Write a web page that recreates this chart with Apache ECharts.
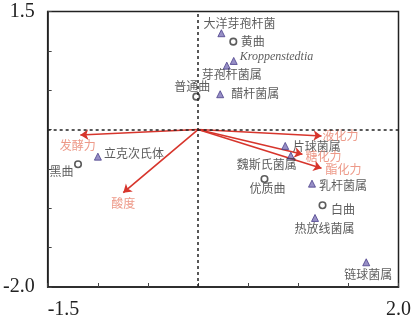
<!DOCTYPE html>
<html>
<head>
<meta charset="utf-8">
<script src="https://cdn.jsdelivr.net/npm/echarts@6/dist/echarts.min.js"></script>
<style>html,body{margin:0;padding:0;background:#fff;}#c{width:414px;height:324px;}</style>
</head>
<body>
<div id="c"></div>
<script>
// ---- data ----
const xTickLabels = ['-1.5', '2.0'];
const yTickLabels = ['-2.0', '1.5'];

const bacteriaNames = ['大洋芽孢杆菌', 'Kroppenstedtia', '芽孢杆菌属', '醋杆菌属', '立克次氏体', '片球菌属', '魏斯氏菌属', '乳杆菌属', '热放线菌属', '链球菌属'];
const bacteriaX = [0.233, 0.356, 0.287, 0.221, -0.999, 0.870, 0.926, 1.137, 1.167, 1.678];
const bacteriaY = [1.224, 0.872, 0.812, 0.449, -0.344, -0.208, -0.332, -0.687, -1.123, -1.686];

const quNames = ['黄曲', '普通曲', '黑曲', '优质曲', '白曲'];
const quX = [0.352, -0.017, -1.197, 0.663, 1.242];
const quY = [1.117, 0.418, -0.441, -0.628, -0.962];

const envNames = ['液化力', '糖化力', '酯化力', '发酵力', '酸度'];
const envX = [1.232, 1.042, 1.232, -1.174, -0.746];
const envY = [-0.081, -0.314, -0.492, -0.069, -0.802];

// ---- label layout (style only) ----
const labelLayout = {
  '大洋芽孢杆菌': {align: 'center', offset: [18, -10]},
  'Kroppenstedtia': {align: 'left', offset: [6, -4], italic: true},
  '芽孢杆菌属': {align: 'center', offset: [5, 8.5]},
  '醋杆菌属': {align: 'left', offset: [11, -1]},
  '立克次氏体': {align: 'left', offset: [6, -3.5]},
  '片球菌属': {align: 'left', offset: [7.5, 0]},
  '魏斯氏菌属': {align: 'center', offset: [-24, 8.5]},
  '乳杆菌属': {align: 'left', offset: [7, 1.5]},
  '热放线菌属': {align: 'center', offset: [9.5, 10.5]},
  '链球菌属': {align: 'center', offset: [2, 12.5]},
  '黄曲': {align: 'left', offset: [7.5, -0.5]},
  '普通曲': {align: 'center', offset: [-4, -10]},
  '黑曲': {align: 'right', offset: [-4.5, 7.5]},
  '优质曲': {align: 'center', offset: [3, 9.5]},
  '白曲': {align: 'left', offset: [8.5, 4]},
  '液化力': {align: 'center', offset: [19, -1]},
  '糖化力': {align: 'center', offset: [21, 2.5]},
  '酯化力': {align: 'center', offset: [22, 1.5]},
  '发酵力': {align: 'center', offset: [-2.5, 10]},
  '酸度': {align: 'center', offset: [0, 10.5]}
};

const cjkFont = '"Noto Sans CJK SC", "Noto Sans", sans-serif';
const serifFont = '"Liberation Serif", "DejaVu Serif", serif';

function pointData(names, xs, ys) {
  return names.map((n, i) => {
    const L = labelLayout[n];
    return {
      name: n,
      value: [xs[i], ys[i]],
      label: {
        show: true,
        formatter: n,
        position: 'inside',
        align: L.align,
        verticalAlign: 'middle',
        offset: L.offset,
        fontStyle: L.italic ? 'italic' : 'normal',
        fontFamily: L.italic ? serifFont : cjkFont
      }
    };
  });
}

const chart = echarts.init(document.getElementById('c'), null, {renderer: 'canvas'});

const option = {
  animation: false,
  backgroundColor: '#ffffff',
  grid: {left: 47, right: 13, top: 11.5, bottom: 37, show: true, borderColor: '#222', borderWidth: 1.5, backgroundColor: 'transparent'},
  xAxis: {
    type: 'value', min: -1.5, max: 2.0, interval: 0.5,
    axisLine: {show: true, onZero: false, lineStyle: {color: '#222', width: 1.5}},
    axisTick: {show: true, inside: true, length: 4, lineStyle: {color: '#444', width: 1}},
    splitLine: {show: false},
    axisLabel: {
      show: true, margin: 13, color: '#222', fontFamily: serifFont, fontSize: 20,
      alignMinLabel: 'left', alignMaxLabel: 'center',
      formatter: v => {
        const s = v.toFixed(1);
        return xTickLabels.indexOf(s) >= 0 ? s : '';
      }
    }
  },
  yAxis: {
    type: 'value', min: -2.0, max: 1.5, interval: 0.5,
    axisLine: {show: true, onZero: false, lineStyle: {color: '#222', width: 1.5}},
    axisTick: {show: true, inside: true, length: 4, lineStyle: {color: '#444', width: 1}},
    splitLine: {show: false},
    axisLabel: {
      show: true, margin: 13, color: '#222', fontFamily: serifFont, fontSize: 20,
      formatter: v => {
        const s = v.toFixed(1);
        return yTickLabels.indexOf(s) >= 0 ? s : '';
      }
    }
  },
  series: [
    {
      type: 'line', data: [], silent: true,
      markLine: {
        silent: true, symbol: ['none', 'none'],
        lineStyle: {color: '#222', type: [3, 3], width: 1.5},
        label: {show: false},
        data: [{xAxis: 0}, {yAxis: 0}]
      }
    },
    {
      type: 'lines', coordinateSystem: 'cartesian2d', silent: true,
      symbol: ['none', 'arrow'], symbolSize: 8,
      lineStyle: {color: '#d7352c', width: 1.6, opacity: 1},
      data: envNames.map((n, i) => ({coords: [[0, 0], [envX[i], envY[i]]]}))
    },
    {
      type: 'scatter', symbol: 'triangle', symbolSize: 7,
      itemStyle: {color: '#7d73b8', borderColor: '#4a3f8a', borderWidth: 1},
      label: {color: '#333', fontSize: 12},
      data: pointData(bacteriaNames, bacteriaX, bacteriaY)
    },
    {
      type: 'scatter', symbol: 'circle', symbolSize: 6.5,
      itemStyle: {color: '#ffffff', borderColor: '#333', borderWidth: 1.6},
      label: {color: '#333', fontSize: 12},
      data: pointData(quNames, quX, quY)
    },
    {
      type: 'scatter', symbol: 'circle', symbolSize: 1, silent: true,
      itemStyle: {color: 'rgba(0,0,0,0)'},
      label: {color: '#e8806a', fontSize: 12},
      data: pointData(envNames, envX, envY)
    }
  ]
};
chart.setOption(option);
</script>
</body>
</html>
